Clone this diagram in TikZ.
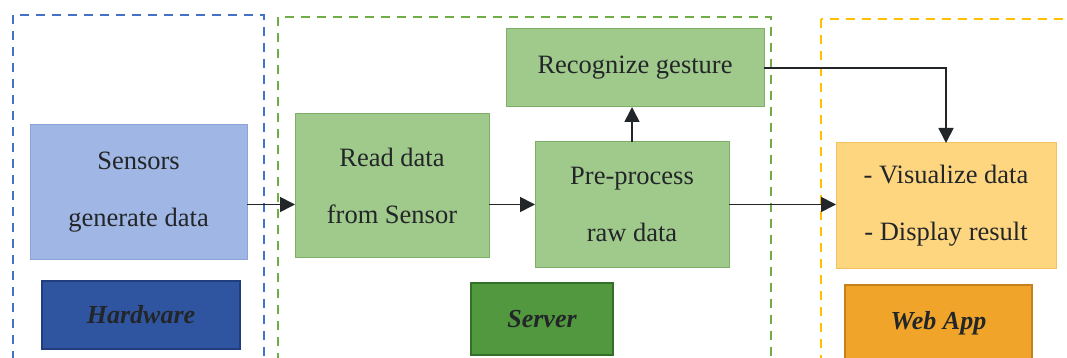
\documentclass[tikz,border=0pt]{standalone}
\usepackage{fontspec}
\setmainfont{Liberation Serif}
\usetikzlibrary{arrows.meta}

\definecolor{txt}{RGB}{35,38,40}
\definecolor{hwline}{RGB}{68,114,196}
\definecolor{svline}{RGB}{112,173,71}
\definecolor{waline}{RGB}{255,192,0}
\definecolor{sensfill}{RGB}{160,182,228}
\definecolor{sensdraw}{RGB}{140,165,215}
\definecolor{hwfill}{RGB}{47,85,160}
\definecolor{hwdraw}{RGB}{32,62,125}
\definecolor{grfill}{RGB}{160,201,140}
\definecolor{grdraw}{RGB}{125,175,105}
\definecolor{svfill}{RGB}{82,152,62}
\definecolor{svdraw}{RGB}{50,112,40}
\definecolor{wafill}{RGB}{255,214,128}
\definecolor{wadraw}{RGB}{242,194,95}
\definecolor{appfill}{RGB}{240,165,42}
\definecolor{appdraw}{RGB}{200,128,28}

\tikzset{
  group/.style={line width=1.5pt, dash pattern=on 9pt off 7pt},
  box/.style={rectangle, inner sep=0pt, outer sep=0pt, line width=1pt,
    align=center, text=txt, font=\fontsize{26.5}{57}\selectfont},
  tag/.style={rectangle, inner sep=0pt, outer sep=0pt, line width=1.2pt,
    text=txt, font=\fontsize{26}{30}\selectfont\bfseries\itshape},
  arr/.style={line width=1.7pt, draw=txt,
    -{Triangle[length=15pt,width=15pt]}},
}

\begin{document}
\begin{tikzpicture}[x=1pt,y=-1pt]
\useasboundingbox (0,0) rectangle (1067,358);
\fill[white] (0,0) rectangle (1067,358);
\clip (0,0) rectangle (1067,358);

% tier frames
\draw[group, hwline] (13,15) rectangle (264,372);
\draw[group, svline] (278,17) rectangle (771,372);
\draw[group, waline] (821,19) rectangle (1085,372);

% hardware tier
\node[box, fill=sensfill, draw=sensdraw, minimum width=217pt, minimum height=134pt]
  (s) at (138.5,192) {Sensors\\generate data};
\node[tag, fill=hwfill, draw=hwdraw, minimum width=198pt, minimum height=68pt]
  (hw) at (141,315) {Hardware};

% server tier
\node[box, fill=grfill, draw=grdraw, minimum width=194pt, minimum height=143pt]
  (r) at (392,185.5) {Read data\\from Sensor};
\node[box, fill=grfill, draw=grdraw, minimum width=194pt, minimum height=125pt]
  (p) at (632,204.5) {Pre-process\\raw data};
\node[box, fill=grfill, draw=grdraw, minimum width=258pt, minimum height=78pt]
  (g) at (635,68) {Recognize gesture};
\node[tag, fill=svfill, draw=svdraw, minimum width=142pt, minimum height=72pt]
  (sv) at (542,319) {Server};

% web app tier
\node[box, fill=wafill, draw=wadraw, minimum width=220pt, minimum height=125pt]
  (w) at (946,205.5) {- Visualize data\\- Display result};
\node[tag, fill=appfill, draw=appdraw, minimum width=187pt, minimum height=76pt]
  (wa) at (938.5,323) {Web App};

% data flow
\draw[arr] (s.east |- p) -- (r.west |- p);
\draw[arr] (r.east |- p) -- (p.west);
\draw[arr] (p.east) -- (w.west |- p);
\draw[arr] (p.north) -- (p.north |- g.south);
\draw[arr] (g.east) -| (w.north);
\end{tikzpicture}
\end{document}
